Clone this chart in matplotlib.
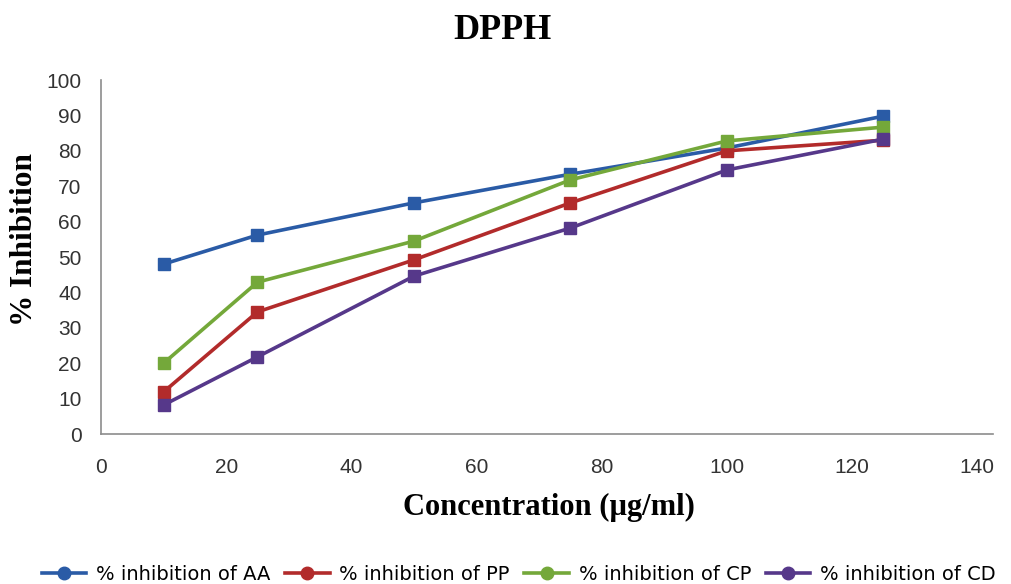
import matplotlib
matplotlib.use('Agg')
import matplotlib.pyplot as plt
from matplotlib.lines import Line2D

# concentration in ug/ml
conc = [10, 25, 50, 75, 100, 125]

# % inhibition
inh_aa = [48.0, 56.2, 65.3, 73.4, 80.8, 89.8]
inh_pp = [11.9, 34.5, 49.2, 65.3, 80.0, 83.0]
inh_cp = [20.0, 42.9, 54.5, 71.8, 82.8, 86.7]
inh_cd = [8.2, 21.8, 44.6, 58.2, 74.6, 83.3]

labels = ['% inhibition of AA', '% inhibition of PP',
          '% inhibition of CP', '% inhibition of CD']
colors = ['#2A5BA6', '#B22B2B', '#74A83A', '#56388A']

x_ticks = [0, 20, 40, 60, 80, 100, 120, 140]
y_ticks = [0, 10, 20, 30, 40, 50, 60, 70, 80, 90, 100]

fig = plt.figure(figsize=(10.11, 5.84), dpi=100)
ax = fig.add_axes([0.0999, 0.2568, 0.8823, 0.6062])

series = [inh_aa, inh_pp, inh_cp, inh_cd]
for vals, lab, col in zip(series, labels, colors):
    ax.plot(conc, vals, color=col, lw=2.6, marker='s', ms=9,
            markeredgecolor=col, label=lab)

ax.set_xlim(0, 142.5)
ax.set_ylim(0, 100)
ax.set_xticks(x_ticks)
ax.set_yticks(y_ticks)
ax.tick_params(length=0, labelsize=15, colors='#333333')
ax.tick_params(axis='x', pad=17)
ax.tick_params(axis='y', pad=14)
for t in ax.get_xticklabels() + ax.get_yticklabels():
    t.set_family('Liberation Sans')

for s in ['top', 'right']:
    ax.spines[s].set_visible(False)
for s in ['left', 'bottom']:
    ax.spines[s].set_color('#8c8c8c')
    ax.spines[s].set_linewidth(1.2)

ax.set_xlabel('Concentration (\u00b5g/ml)', family='Liberation Serif',
              fontweight='bold', fontsize=22)
ax.xaxis.set_label_coords(0.502, -0.166)
ax.set_ylabel('% Inhibition', family='Liberation Serif',
              fontweight='bold', fontsize=22.5)
ax.yaxis.set_label_coords(-0.069, 0.55)
fig.text(0.497, 0.948, 'DPPH', family='Liberation Serif', fontweight='bold',
         fontsize=26, ha='center', va='center')

handles = [Line2D([0], [0], color=c, lw=2.6, marker='o', ms=9) for c in colors]
fig.legend(handles, labels, loc='center', bbox_to_anchor=(0.513, 0.016),
           ncol=4, frameon=False, handlelength=2.3, columnspacing=0.75,
           handletextpad=0.5, prop={'family': ['Liberation Sans Narrow', 'DejaVu Sans'], 'size': 14})

fig.savefig('out.png', dpi=100)
